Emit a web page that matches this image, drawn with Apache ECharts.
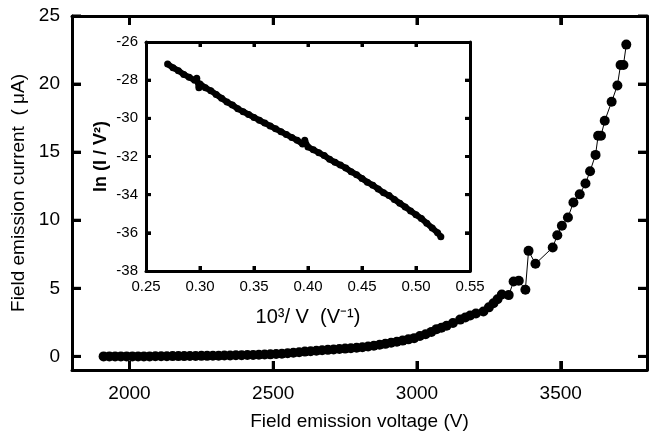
<!DOCTYPE html>
<html>
<head>
<meta charset="utf-8">
<script src="https://cdn.jsdelivr.net/npm/echarts@6/dist/echarts.min.js"></script>
<style>
  html, body { margin: 0; background: #fff; }
  #chart { width: 650px; height: 436px; }
</style>
</head>
<body>
<div id="chart"></div>
<script>
// main curve: field emission current vs voltage
var voltage = [1910, 1930, 1950, 1970, 1990, 2010, 2030, 2050, 2070, 2090, 2110, 2130, 2150, 2170, 2190,
  2210, 2230, 2250, 2270, 2290, 2310, 2330, 2350, 2370, 2390, 2410, 2430, 2450, 2470, 2490,
  2510, 2530, 2550, 2570, 2590, 2610, 2630, 2650, 2670, 2690, 2710, 2730, 2750, 2770, 2790,
  2810, 2830, 2850, 2870, 2890, 2910, 2930, 2950, 2970, 2990, 3010, 3030, 3050, 3068, 3085,
  3103, 3125, 3150, 3168, 3185, 3205, 3231, 3250, 3266, 3280, 3295, 3319, 3336, 3354, 3377,
  3388, 3412, 3472, 3488, 3504, 3525, 3544, 3566, 3586, 3602, 3621, 3630, 3640, 3653, 3677,
  3697, 3708, 3718, 3728];
var current = [0, 0, 0, 0, 0, 0, 0, 0, 0, 0.01, 0.01, 0.01, 0.02, 0.02, 0.02,
  0.03, 0.03, 0.04, 0.04, 0.05, 0.05, 0.06, 0.07, 0.08, 0.09, 0.1, 0.11, 0.12, 0.14, 0.15,
  0.17, 0.2, 0.23, 0.27, 0.31, 0.35, 0.38, 0.41, 0.45, 0.48, 0.51, 0.54, 0.57, 0.6, 0.63,
  0.67, 0.72, 0.78, 0.85, 0.92, 1.0, 1.08, 1.16, 1.25, 1.34, 1.5, 1.62, 1.8, 2.0, 2.1,
  2.25, 2.45, 2.7, 2.85, 3.0, 3.15, 3.3, 3.6, 3.9, 4.2, 4.55, 4.5, 5.5, 5.55, 4.9,
  7.75, 6.8, 8.0, 8.9, 9.6, 10.2, 11.3, 11.9, 12.7, 13.6, 14.8, 16.2, 16.2, 17.3, 18.7,
  19.9, 21.4, 21.4, 22.9];
var voltageTicks = [2000, 2500, 3000, 3500];
var currentTicks = [0, 5, 10, 15, 20, 25];

// inset: Fowler-Nordheim plot
var invVoltage = [0.270, 0.275, 0.280, 0.285, 0.290, 0.295, 0.297, 0.299, 0.300, 0.305, 0.310, 0.315,
  0.320, 0.325, 0.330, 0.335, 0.340, 0.345, 0.350, 0.355, 0.360, 0.365, 0.370, 0.375, 0.380,
  0.385, 0.390, 0.395, 0.397, 0.400, 0.405, 0.410, 0.415, 0.420, 0.425, 0.430, 0.435, 0.440,
  0.445, 0.450, 0.455, 0.460, 0.465, 0.470, 0.475, 0.480, 0.485, 0.490, 0.495, 0.500, 0.505,
  0.510, 0.515, 0.520, 0.523];
var lnIV2 = [-27.15, -27.35, -27.5, -27.7, -27.85, -28.0, -27.9, -28.4, -28.2, -28.4, -28.55, -28.75,
  -28.95, -29.15, -29.3, -29.5, -29.65, -29.8, -29.95, -30.1, -30.25, -30.4, -30.55, -30.7, -30.85,
  -31.0, -31.15, -31.35, -31.15, -31.5, -31.65, -31.8, -31.95, -32.15, -32.3, -32.45, -32.6, -32.8,
  -32.95, -33.15, -33.35, -33.5, -33.7, -33.9, -34.05, -34.25, -34.45, -34.65, -34.85, -35.05, -35.25,
  -35.5, -35.75, -36.0, -36.2];
var invVoltageTicks = [0.30, 0.35, 0.40, 0.45, 0.50];
var lnTicks = [-36, -34, -32, -30, -28];

var mainData = voltage.map(function (v, i) { return [v, current[i]]; });
var insetData = invVoltage.map(function (v, i) { return [v, lnIV2[i]]; });

var chart = echarts.init(document.getElementById('chart'));

var font = 'Liberation Sans, Arial, sans-serif';
var plain = function (v) { return String(v); };

function frame() {
  return { show: true, onZero: false, lineStyle: { color: '#000', width: 3 } };
}
function ticks(len, vals) {
  var t = { show: true, inside: true, length: len, lineStyle: { color: '#000', width: 3 } };
  if (vals) t.customValues = vals;
  return t;
}

var option = {
  animation: false,
  grid: [
    { left: 72, right: 3, top: 16, bottom: 61 },
    { left: 146, right: 180, top: 42, bottom: 165 }
  ],
  xAxis: [
    {
      type: 'value', gridIndex: 0, min: 1800, max: 3800,
      axisLine: frame(), axisTick: ticks(9, voltageTicks),
      axisLabel: { customValues: voltageTicks, formatter: plain, color: '#000', fontSize: 19, fontFamily: font, margin: 14 },
      splitLine: { show: false },
      name: 'Field emission voltage (V)', nameLocation: 'middle', nameGap: 42,
      nameTextStyle: { color: '#000', fontSize: 19, fontFamily: font }
    },
    {
      type: 'value', gridIndex: 0, position: 'top', min: 1800, max: 3800,
      axisLine: frame(), axisTick: ticks(9, voltageTicks),
      axisLabel: { show: false, customValues: voltageTicks },
      splitLine: { show: false }
    },
    {
      type: 'value', gridIndex: 1, min: 0.25, max: 0.55, interval: 0.05,
      axisLine: frame(), axisTick: ticks(5),
      axisLabel: { color: '#000', fontSize: 15, fontFamily: font, margin: 8,
        formatter: function (v) { return v.toFixed(2); } },
      splitLine: { show: false },
      name: '10³/ V  (V⁻¹)', nameLocation: 'middle', nameGap: 36,
      nameTextStyle: { color: '#000', fontSize: 20, fontFamily: font }
    },
    {
      type: 'value', gridIndex: 1, position: 'top', min: 0.25, max: 0.55, interval: 0.05,
      axisLine: frame(), axisTick: ticks(5),
      axisLabel: { show: false },
      splitLine: { show: false }
    }
  ],
  yAxis: [
    {
      type: 'value', gridIndex: 0, min: -1, max: 25,
      axisLine: frame(), axisTick: ticks(9, currentTicks),
      axisLabel: { customValues: currentTicks, formatter: plain, color: '#000', fontSize: 19, fontFamily: font, margin: 12 },
      splitLine: { show: false },
      name: 'Field emission current  ( μA)', nameLocation: 'middle', nameGap: 42,
      nameTextStyle: { color: '#000', fontSize: 19, fontFamily: font }
    },
    {
      type: 'value', gridIndex: 0, position: 'right', min: -1, max: 25,
      axisLine: frame(), axisTick: ticks(9, currentTicks),
      axisLabel: { show: false, customValues: currentTicks },
      splitLine: { show: false }
    },
    {
      type: 'value', gridIndex: 1, min: -38, max: -26, interval: 2,
      axisLine: frame(), axisTick: ticks(5),
      axisLabel: { color: '#000', fontSize: 15, fontFamily: font, margin: 8 },
      splitLine: { show: false },
      name: 'ln (I / V²)', nameLocation: 'middle', nameGap: 36,
      nameTextStyle: { color: '#000', fontSize: 18, fontWeight: 'bold', fontFamily: font }
    },
    {
      type: 'value', gridIndex: 1, position: 'right', min: -38, max: -26, interval: 2,
      axisLine: frame(), axisTick: ticks(5),
      axisLabel: { show: false },
      splitLine: { show: false }
    }
  ],
  series: [
    {
      type: 'line', xAxisIndex: 0, yAxisIndex: 0,
      data: mainData,
      symbol: 'circle', symbolSize: 10, showAllSymbol: true,
      lineStyle: { color: '#000', width: 1 },
      itemStyle: { color: '#000' }
    },
    {
      type: 'line', xAxisIndex: 2, yAxisIndex: 2,
      data: insetData,
      symbol: 'circle', symbolSize: 7, showAllSymbol: true,
      lineStyle: { color: '#000', width: 6 },
      itemStyle: { color: '#000' }
    }
  ]
};

chart.setOption(option);

// inward tick marks on every side of both frames, placed through the axes' own scales
function tickLine(grid, a, b, dx, dy) {
  var p = chart.convertToPixel({ gridIndex: grid }, [a, b]);
  return {
    type: 'line', z: 100, silent: true,
    shape: { x1: p[0], y1: p[1], x2: p[0] + dx, y2: p[1] + dy },
    style: { stroke: '#000', lineWidth: 3 }
  };
}
var marks = [];
voltageTicks.forEach(function (v) {
  marks.push(tickLine(0, v, -1, 0, -9));
  marks.push(tickLine(0, v, 25, 0, 9));
});
currentTicks.forEach(function (v) {
  marks.push(tickLine(0, 1800, v, 9, 0));
  marks.push(tickLine(0, 3800, v, -9, 0));
});
invVoltageTicks.forEach(function (v) {
  marks.push(tickLine(1, v, -38, 0, -5));
  marks.push(tickLine(1, v, -26, 0, 5));
});
lnTicks.forEach(function (v) {
  marks.push(tickLine(1, 0.25, v, 5, 0));
  marks.push(tickLine(1, 0.55, v, -5, 0));
});
chart.setOption({ graphic: { elements: marks } });
</script>
</body>
</html>
